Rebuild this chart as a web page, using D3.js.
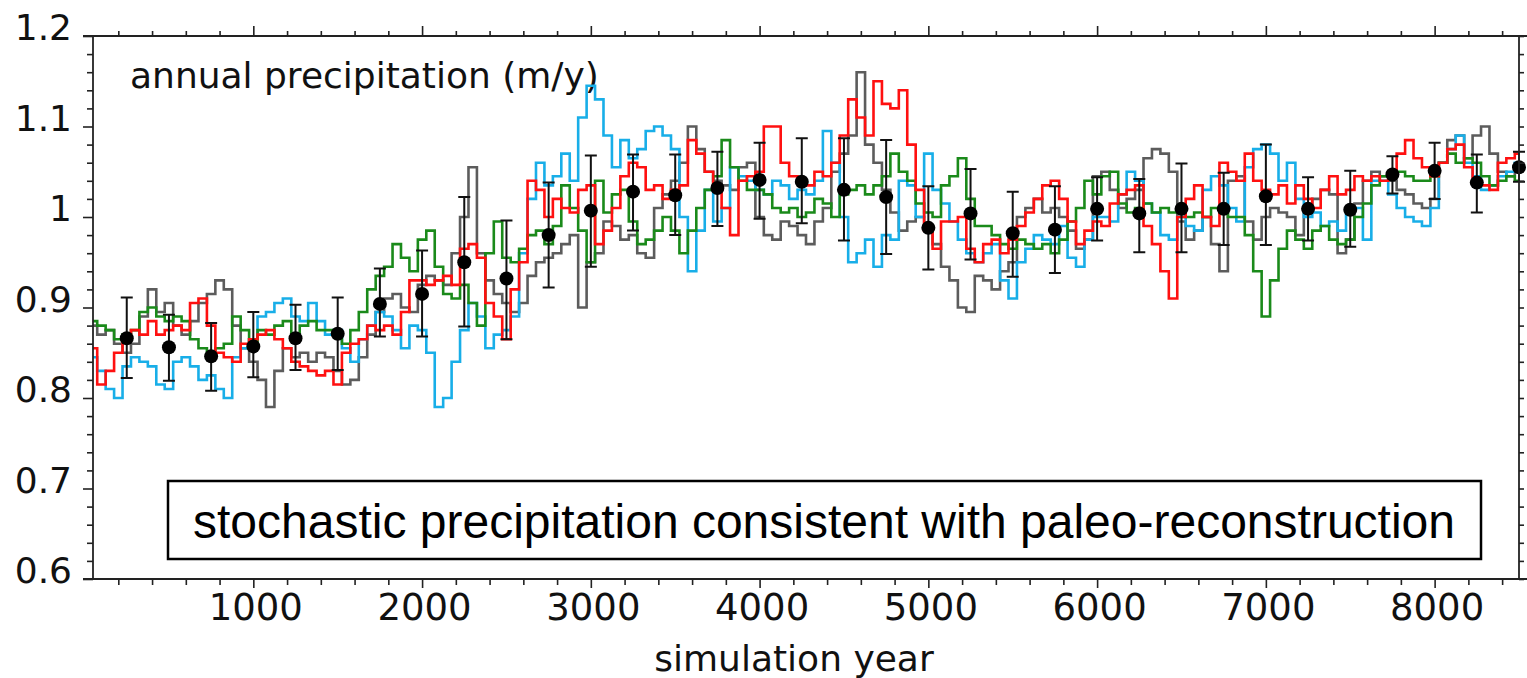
<!DOCTYPE html>
<html>
<head>
<meta charset="utf-8">
<script src="https://cdn.jsdelivr.net/npm/d3@7"></script>
<style>
  body { margin: 0; background: #fff; }
  svg { display: block; }
</style>
</head>
<body>
<svg width="1527" height="678"></svg>
<script>
var svg = d3.select("svg");

// simulation years, one sample every 50 years
var years = d3.range(50, 8501, 50);

// four stochastic realisations (m/y)
var grayRun = [
  0.88, 0.87, 0.875, 0.86, 0.85, 0.86, 0.89, 0.92, 0.895, 0.905, 0.88, 0.87, 0.885, 0.905,
  0.915, 0.93, 0.92, 0.88, 0.855, 0.84, 0.82, 0.79, 0.83, 0.855, 0.845, 0.85, 0.84, 0.85,
  0.845, 0.83, 0.815, 0.82, 0.845, 0.87, 0.895, 0.91, 0.915, 0.90, 0.895, 0.925, 0.935, 0.93,
  0.925, 0.96, 1.0, 1.055, 0.96, 0.93, 0.915, 0.905, 0.895, 0.905, 0.935, 0.95, 0.955, 0.96, 0.97,
  0.98, 0.90, 0.95, 0.96, 0.995, 0.99, 0.975, 0.98, 0.96, 0.955, 1.01, 1.025, 1.04, 1.06,
  1.1, 1.075, 1.05, 1.04, 1.035, 1.03, 1.055, 1.06, 1.0, 0.98, 0.975, 0.995, 0.99, 0.98, 0.97,
  0.995, 1.01, 1.05, 1.07, 1.09, 1.16, 1.08, 1.06, 1.03, 1.005, 0.985, 0.995, 1.0, 0.99,
  0.97, 0.945, 0.93, 0.9, 0.895, 0.935, 0.93, 0.92, 0.94, 0.95, 1.0, 1.01, 1.02, 1.005,
  1.01, 1.0, 0.985, 0.965, 0.975, 1.045, 1.05, 1.03, 1.01, 1.02, 1.03, 1.065, 1.075, 1.07,
  1.05, 0.995, 0.975, 0.985, 1.0, 0.97, 0.94, 1.04, 1.045, 0.995, 0.975, 1.0, 1.01, 1.005,
  1.0, 0.98, 1.01, 1.02, 1.03, 1.025, 0.96, 0.975, 1.015, 1.04, 1.05, 1.045, 1.04, 1.03,
  1.025, 1.015, 1.01, 1.02, 1.06, 1.085, 1.09, 1.065, 1.09, 1.1, 1.07, 1.05, 1.045, 1.055
];
var blueRun = [
  0.845, 0.83, 0.81, 0.80, 0.835, 0.845, 0.84, 0.835, 0.815, 0.81, 0.84, 0.845, 0.835, 0.82,
  0.825, 0.81, 0.80, 0.845, 0.855, 0.865, 0.89, 0.895, 0.905, 0.91, 0.89, 0.885, 0.905, 0.885,
  0.87, 0.875, 0.855, 0.84, 0.865, 0.88, 0.895, 0.89, 0.875, 0.855, 0.88, 0.875, 0.85, 0.79,
  0.80, 0.84, 0.875, 0.905, 0.89, 0.855, 0.87, 0.875, 0.89, 0.96, 1.02, 1.06, 1.035, 1.045, 1.07,
  1.04, 1.11, 1.145, 1.13, 1.09, 1.055, 1.085, 1.065, 1.075, 1.095, 1.10, 1.09, 1.075, 1.0,
  0.94, 0.985, 1.03, 0.995, 1.01, 1.055, 1.045, 1.04, 1.03, 1.025, 1.04, 1.035, 1.02, 1.03, 1.025,
  1.04, 1.095, 1.06, 1.0, 0.95, 0.96, 0.975, 0.945, 0.98, 0.975, 1.04, 1.035, 1.0, 1.07,
  1.03, 1.015, 0.995, 0.975, 0.96, 0.95, 0.96, 0.97, 0.93, 0.91, 0.95, 0.965, 0.98, 0.975,
  0.97, 0.99, 0.955, 0.945, 0.975, 1.0, 1.0, 0.995, 1.025, 1.05, 1.04, 1.015, 1.005, 0.98,
  0.975, 1.0, 0.99, 0.985, 1.03, 1.045, 1.035, 1.01, 0.995, 1.055, 1.075, 1.08, 1.07, 1.04,
  1.06, 1.02, 1.0, 1.005, 0.99, 0.995, 0.985, 1.005, 1.01, 0.975, 1.04, 1.04, 1.025, 1.01,
  1.0, 0.995, 0.99, 1.01, 1.06, 1.075, 1.09, 1.06, 1.045, 1.03, 1.035, 1.045, 1.05, 1.06
];
var greenRun = [
  0.885, 0.88, 0.875, 0.865, 0.87, 0.875, 0.895, 0.90, 0.89, 0.885, 0.89, 0.885, 0.865, 0.855,
  0.845, 0.855, 0.86, 0.89, 0.875, 0.86, 0.875, 0.87, 0.88, 0.885, 0.87, 0.88, 0.885, 0.875,
  0.875, 0.87, 0.86, 0.875, 0.895, 0.92, 0.935, 0.945, 0.97, 0.955, 0.94, 0.975, 0.985, 0.945,
  0.915, 0.91, 0.925, 0.905, 0.88, 0.96, 0.995, 0.955, 0.95, 0.965, 0.98, 0.985, 0.97, 0.99, 1.035,
  1.01, 0.985, 0.95, 1.04, 1.005, 1.025, 1.03, 0.995, 0.97, 0.975, 0.985, 1.0, 0.985, 0.96,
  0.985, 1.01, 1.03, 1.045, 1.085, 1.055, 1.04, 1.03, 1.03, 1.025, 1.01, 1.005, 1.01, 1.0, 1.005,
  1.02, 1.015, 1.0, 1.025, 1.03, 1.035, 1.025, 1.035, 1.045, 1.07, 1.05, 1.04, 1.015, 1.005,
  1.0, 1.035, 1.045, 1.065, 1.02, 0.99, 0.99, 0.98, 0.97, 0.965, 0.975, 0.97, 0.965, 0.97,
  0.96, 0.975, 0.995, 1.01, 1.04, 1.025, 1.045, 1.05, 1.015, 1.005, 1.01, 1.015, 1.005, 1.01,
  1.005, 1.01, 1.0, 1.005, 1.0, 1.01, 1.005, 1.0, 1.0, 0.98, 0.94, 0.89, 0.93, 0.965,
  0.985, 0.975, 0.965, 0.985, 0.99, 0.975, 0.97, 0.975, 1.0, 1.015, 1.035, 1.045, 1.05, 1.05,
  1.045, 1.04, 1.04, 1.045, 1.06, 1.07, 1.06, 1.065, 1.06, 1.045, 1.035, 1.04, 1.045, 1.04
];
var redRun = [
  0.855, 0.815, 0.83, 0.85, 0.865, 0.875, 0.87, 0.885, 0.87, 0.875, 0.88, 0.875, 0.905, 0.91,
  0.88, 0.85, 0.845, 0.84, 0.86, 0.865, 0.87, 0.875, 0.865, 0.855, 0.84, 0.835, 0.83, 0.825,
  0.83, 0.815, 0.85, 0.86, 0.865, 0.88, 0.875, 0.88, 0.87, 0.895, 0.93, 0.93, 0.925, 0.93,
  0.935, 0.925, 0.965, 0.97, 0.955, 0.905, 0.89, 0.865, 0.92, 0.95, 1.04, 1.03, 1.0, 1.02, 1.01,
  1.005, 1.03, 1.035, 0.97, 0.985, 1.01, 1.045, 1.06, 1.055, 1.03, 1.035, 1.02, 1.03, 1.035,
  1.085, 1.07, 1.05, 1.035, 1.01, 0.98, 1.04, 1.045, 1.05, 1.1, 1.1, 1.06, 1.045, 1.04, 1.035,
  1.05, 1.045, 1.06, 1.09, 1.13, 1.11, 1.09, 1.15, 1.125, 1.12, 1.14, 1.08, 1.03, 0.985,
  0.965, 0.995, 0.995, 1.0, 0.965, 0.95, 0.97, 0.975, 0.96, 0.975, 0.99, 1.005, 1.02, 1.035,
  1.04, 1.02, 0.995, 0.97, 0.985, 0.995, 0.99, 1.015, 1.025, 1.03, 1.035, 0.99, 0.97, 0.94,
  0.91, 1.0, 1.02, 1.035, 1.0, 0.99, 1.06, 1.05, 1.04, 1.07, 1.04, 1.03, 1.025, 1.035,
  1.015, 1.035, 1.02, 1.01, 1.03, 1.045, 1.025, 1.03, 1.045, 1.04, 1.045, 1.04, 1.05, 1.07,
  1.085, 1.065, 1.055, 1.045, 1.06, 1.075, 1.08, 1.055, 1.04, 1.035, 1.03, 1.06, 1.065, 1.07
];

// paleo-reconstruction: mean and error bar ends every 250 years
var reconYears = d3.range(250, 8501, 250);
var reconMean = [0.866, 0.856, 0.846, 0.857, 0.866, 0.871, 0.904, 0.915, 0.950, 0.932, 0.980, 1.007,
  1.028, 1.024, 1.032, 1.041, 1.039, 1.030, 1.022, 0.988, 1.004, 0.982, 0.986, 1.009, 1.004, 1.009,
  1.009, 1.023, 1.009, 1.008, 1.047, 1.051, 1.038, 1.055];
var reconHigh = [0.911, 0.892, 0.883, 0.895, 0.903, 0.911, 0.943, 0.963, 1.022, 0.996, 1.038, 1.068,
  1.069, 1.069, 1.072, 1.082, 1.087, 1.087, 1.085, 1.034, 1.053, 1.028, 1.034, 1.044, 1.042, 1.059,
  1.049, 1.080, 1.044, 1.051, 1.067, 1.082, 1.069, 1.072];
var reconLow = [0.822, 0.819, 0.808, 0.823, 0.831, 0.831, 0.868, 0.868, 0.879, 0.865, 0.922, 0.945,
  0.985, 0.980, 0.990, 0.998, 0.993, 0.974, 0.959, 0.942, 0.953, 0.934, 0.938, 0.974, 0.961, 0.961,
  0.969, 0.969, 0.974, 0.967, 1.026, 1.020, 1.005, 1.039];

var xMajor = [1000, 2000, 3000, 4000, 5000, 6000, 7000, 8000];
var yMajor = [0.6, 0.7, 0.8, 0.9, 1.0, 1.1, 1.2];

var runs = [
  {values: grayRun, color: "#5c5c5c"},
  {values: blueRun, color: "#18aee8"},
  {values: greenRun, color: "#1a8a1a"},
  {values: redRun, color: "#ff1010"}
];

// plot frame (window.top is reserved, so keep these names distinct)
var plotL = 93, plotR = 1519, plotT = 36, plotB = 579;

var x = d3.scaleLinear().domain([50, 8500]).range([plotL, plotR]);
var y = d3.scaleLinear().domain([0.6, 1.2]).range([plotB, plotT]);

var xMinor = d3.range(200, 8500, 200).filter(function(d) { return d % 1000 != 0; });
var yAll = d3.range(30, 61, 1).map(function(d) { return d / 50; });
var yMinor = yAll.filter(function(d) { return Math.round(d * 50) % 5 != 0; });

var tickStyle = function(g) {
  g.select(".domain").remove();
  g.selectAll("line").attr("stroke", "#222").attr("stroke-width", 1.6);
};

// label inside the plot
svg.append("text")
  .attr("x", 130).attr("y", 88)
  .attr("font-family", "DejaVu Sans, Verdana, sans-serif")
  .attr("font-size", 36)
  .attr("fill", "#111")
  .text("annual precipitation (m/y)");

// the stochastic runs
var line = d3.line()
  .curve(d3.curveStep)
  .x(function(d, i) { return x(years[i]); })
  .y(function(d) { return y(d); });

svg.append("g").selectAll("path")
  .data(runs)
  .enter()
  .append("path")
  .attr("d", function(d) { return line(d.values); })
  .attr("fill", "none")
  .attr("stroke", function(d) { return d.color; })
  .attr("stroke-width", 2.6);

// reconstruction with error bars
var recon = svg.append("g");
recon.selectAll(".bar")
  .data(reconYears)
  .enter()
  .append("path")
  .attr("class", "bar")
  .attr("d", function(d, i) {
    var cx = x(d), y0 = y(reconLow[i]), y1 = y(reconHigh[i]);
    return "M" + (cx - 6) + "," + y1 + "H" + (cx + 6) +
           "M" + cx + "," + y1 + "V" + y0 +
           "M" + (cx - 6) + "," + y0 + "H" + (cx + 6);
  })
  .attr("stroke", "#111")
  .attr("stroke-width", 2)
  .attr("fill", "none");

recon.selectAll(".dot")
  .data(reconYears)
  .enter()
  .append("circle")
  .attr("class", "dot")
  .attr("cx", function(d) { return x(d); })
  .attr("cy", function(d, i) { return y(reconMean[i]); })
  .attr("r", 7)
  .attr("fill", "#000");

// frame lines
var frame = svg.append("g").attr("stroke", "#222").attr("stroke-width", 1.8);
frame.append("line").attr("x1", 83).attr("x2", 1527).attr("y1", plotT).attr("y2", plotT);
frame.append("line").attr("x1", 83).attr("x2", 1527).attr("y1", plotB).attr("y2", plotB);
frame.append("line").attr("x1", plotL).attr("x2", plotL).attr("y1", plotT).attr("y2", plotB);
frame.append("line").attr("x1", plotR).attr("x2", plotR).attr("y1", plotT).attr("y2", plotB);

// left axis
svg.append("g")
  .attr("transform", "translate(" + plotL + ",0)")
  .call(d3.axisLeft(y).tickValues(yMinor).tickSize(6).tickSizeOuter(0).tickFormat(""))
  .call(tickStyle);

var yAxis = svg.append("g")
  .attr("transform", "translate(" + plotL + ",0)")
  .call(d3.axisLeft(y).tickValues(yMajor).tickSize(10).tickSizeOuter(0)
    .tickFormat(function(d) { return d == 1 ? "1" : d3.format(".1f")(d); }))
  .call(tickStyle);
yAxis.selectAll("text")
  .attr("x", -21)
  .attr("dy", "0.1em")
  .attr("fill", "#111")
  .attr("font-family", "DejaVu Sans, Verdana, sans-serif")
  .attr("font-size", 36);

// right axis
svg.append("g")
  .attr("transform", "translate(" + plotR + ",0)")
  .call(d3.axisRight(y).tickValues(yAll).tickSize(5).tickSizeOuter(0).tickFormat(""))
  .call(tickStyle);

// top axis
svg.append("g")
  .attr("transform", "translate(0," + plotT + ")")
  .call(d3.axisTop(x).tickValues(xMinor).tickSize(5).tickSizeOuter(0).tickFormat(""))
  .call(tickStyle);
svg.append("g")
  .attr("transform", "translate(0," + plotT + ")")
  .call(d3.axisTop(x).tickValues(xMajor).tickSize(10).tickSizeOuter(0).tickFormat(""))
  .call(tickStyle);

// bottom axis
svg.append("g")
  .attr("transform", "translate(0," + plotB + ")")
  .call(d3.axisBottom(x).tickValues(xMinor).tickSize(6).tickSizeOuter(0).tickFormat(""))
  .call(tickStyle);

var xAxis = svg.append("g")
  .attr("transform", "translate(0," + plotB + ")")
  .call(d3.axisBottom(x).tickValues(xMajor).tickSize(9).tickSizeOuter(0).tickFormat(d3.format("d")))
  .call(tickStyle);
xAxis.selectAll("text")
  .attr("y", 15)
  .attr("dx", 2)
  .attr("fill", "#111")
  .attr("font-family", "DejaVu Sans, Verdana, sans-serif")
  .attr("font-size", 37);

svg.append("text")
  .attr("x", 794).attr("y", 671)
  .attr("text-anchor", "middle")
  .attr("font-family", "DejaVu Sans, Verdana, sans-serif")
  .attr("font-size", 36)
  .attr("fill", "#111")
  .text("simulation year");

// annotation box
svg.append("rect")
  .attr("x", 168).attr("y", 481)
  .attr("width", 1313).attr("height", 78)
  .attr("fill", "#fff")
  .attr("stroke", "#000")
  .attr("stroke-width", 2.5);

svg.append("text")
  .attr("x", 193).attr("y", 538)
  .attr("font-family", "Liberation Sans, Arial, sans-serif")
  .attr("font-size", 48)
  .attr("fill", "#000")
  .text("stochastic precipitation consistent with paleo-reconstruction");
</script>
</body>
</html>
